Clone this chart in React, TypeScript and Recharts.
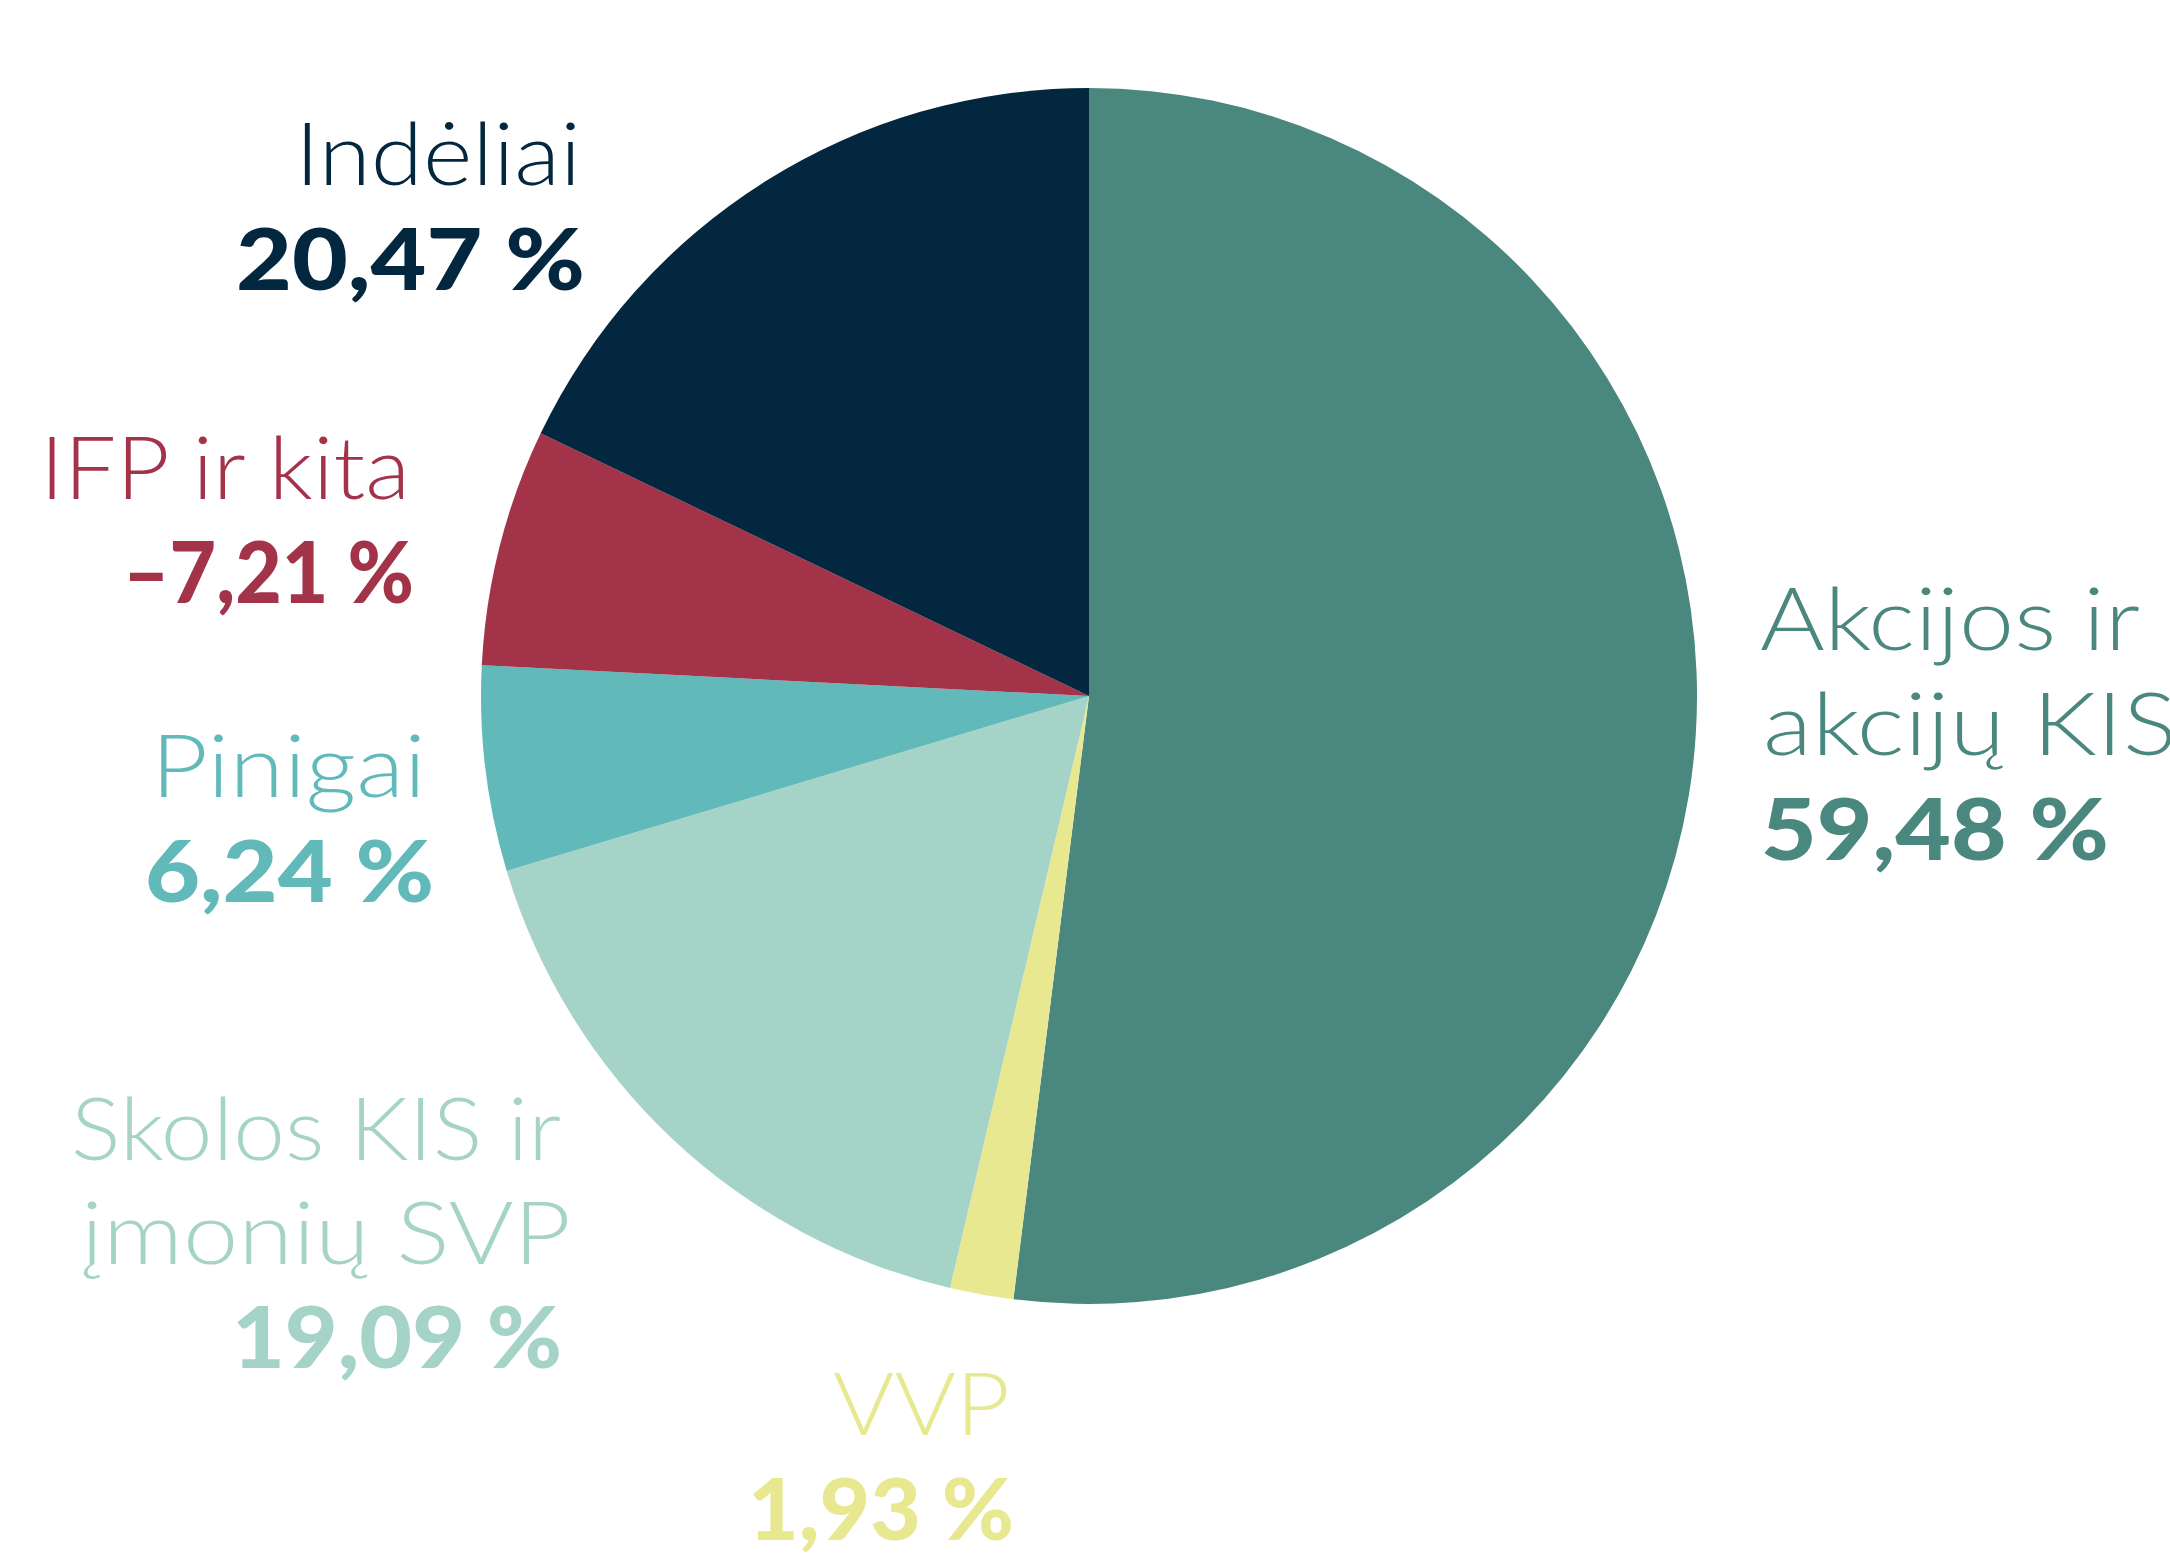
import React from "react";
import { PieChart, Pie, Cell } from "recharts";

const categories = [
  "Akcijos ir akcijų KIS",
  "VVP",
  "Skolos KIS ir įmonių SVP",
  "Pinigai",
  "IFP ir kita",
  "Indėliai",
];
const shares = [59.48, 1.93, 19.09, 6.24, -7.21, 20.47];
const labelLines = [
  ["Akcijos ir", "akcijų KIS"],
  ["VVP"],
  ["Skolos KIS ir", "įmonių SVP"],
  ["Pinigai"],
  ["IFP ir kita"],
  ["Indėliai"],
];
const colors = ["#4a877f", "#e8e891", "#a6d3c8", "#61b9b9", "#a33349", "#03273f"];

// label layout: for each category, left x, baselines, and target widths of each line
const LABEL_LAYOUT = [
  { lines: [{ x: 1760, y: 650, w: 380 }, { x: 1763, y: 755, w: 414 }], value: { x: 1761, y: 860, w: 348 } },
  { lines: [{ x: 833, y: 1435, w: 177 }], value: { x: 748, y: 1540, w: 266 } },
  { lines: [{ x: 71, y: 1160, w: 490 }, { x: 81, y: 1264, w: 490 }], value: { x: 232, y: 1368, w: 330 } },
  { lines: [{ x: 151, y: 797, w: 275 }], value: { x: 145, y: 902, w: 289 } },
  { lines: [{ x: 40, y: 499, w: 370 }], value: { x: 123, y: 603, w: 291 } },
  { lines: [{ x: 295, y: 185, w: 286 }], value: { x: 236, y: 290, w: 349 } },
];

const data = categories.map((name, i) => ({
  name,
  share: shares[i],
  size: Math.abs(shares[i]),
}));

const fmt = (v: number) =>
  (v < 0 ? "\u2013" : "") + Math.abs(v).toFixed(2).replace(".", ",") + " %";

const FONT = "Lato, 'Open Sans', sans-serif";
const FS = 86;

const renderLabel = (props: any) => {
  const i = props.index;
  const lay = LABEL_LAYOUT[i];
  const color = colors[i];
  return (
    <g key={`lab-${i}`}>
      {labelLines[i].map((t, j) => (
        <text
          key={j}
          x={lay.lines[j].x}
          y={lay.lines[j].y}
          fill={color}
          fontFamily={FONT}
          fontSize={FS}
          fontWeight={300}
          textAnchor="start"
          textLength={lay.lines[j].w}
          lengthAdjust="spacingAndGlyphs"
        >
          {t}
        </text>
      ))}
      <text
        x={lay.value.x}
        y={lay.value.y}
        fill={color}
        fontFamily={FONT}
        fontSize={FS}
        fontWeight={900}
        textAnchor="start"
        textLength={lay.value.w}
        lengthAdjust="spacingAndGlyphs"
      >
        {fmt(shares[i])}
      </text>
    </g>
  );
};

export default function App() {
  return (
    <div style={{ position: "absolute", left: 0, top: 0, width: 2170, height: 1568, background: "#fff" }}>
      <PieChart width={2170} height={1568} margin={{ top: 0, right: 0, bottom: 0, left: 0 }}>
        <Pie
          data={data}
          dataKey="size"
          nameKey="name"
          cx={1089}
          cy={696}
          outerRadius={608}
          innerRadius={0}
          startAngle={90}
          endAngle={-270}
          stroke="none"
          isAnimationActive={false}
          label={renderLabel}
          labelLine={false}
        >
          {data.map((d, i) => (
            <Cell key={d.name} fill={colors[i]} stroke="none" />
          ))}
        </Pie>
      </PieChart>
    </div>
  );
}
